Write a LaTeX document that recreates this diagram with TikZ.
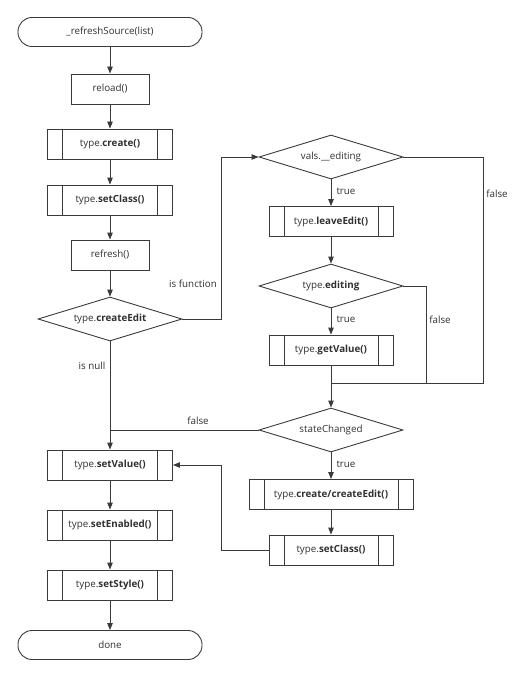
\documentclass[tikz,border=0pt]{standalone}
\usepackage{fontspec}
\setmainfont{Open Sans}
\usetikzlibrary{shapes.geometric,arrows.meta}

\definecolor{linegray}{HTML}{3A3A3A}
\definecolor{textgray}{HTML}{303030}

\tikzset{
    base/.style={draw=linegray, line width=0.9pt, text=textgray, font=\fontsize{9.8}{11}\selectfont, inner sep=0pt},
    terminal/.style={base, rectangle, rounded corners=14pt, minimum width=184pt, minimum height=29pt},
    process/.style={base, rectangle, minimum width=78pt, minimum height=30pt},
    subproc/.style={base, rectangle, minimum height=30pt,
        path picture={
            \draw[linegray, line width=0.9pt]
                ([xshift=15pt]path picture bounding box.north west) -- ([xshift=15pt]path picture bounding box.south west)
                ([xshift=-15pt]path picture bounding box.north east) -- ([xshift=-15pt]path picture bounding box.south east);
        }},
    decision/.style={base, diamond, aspect=3.2, minimum width=144pt, minimum height=44pt},
    flow/.style={draw=linegray, line width=0.9pt, -{Triangle[length=7pt,width=5.5pt]}},
    link/.style={draw=linegray, line width=0.9pt},
    lbl/.style={text=textgray, font=\fontsize{9.8}{11}\selectfont, inner sep=1pt}
}

\begin{document}
\begin{tikzpicture}[x=1pt, y=-1pt]
    \useasboundingbox (0,0) rectangle (530,679);

    % left column
    \node[terminal] (start) at (110,32) {\_refreshSource(list)};
    \node[process] (reload) at (110,89) {reload()};
    \node[subproc, minimum width=125pt] (create) at (110,144) {type.\textbf{create()}};
    \node[subproc, minimum width=125pt] (setcls) at (110,200) {type.\textbf{setClass()}};
    \node[process] (refresh) at (110,255) {refresh()};
    \node[decision] (cedit) at (110,319) {type.\textbf{createEdit}};
    \node[subproc, minimum width=125pt] (setval) at (110,465) {type.\textbf{setValue()}};
    \node[subproc, minimum width=125pt] (setenab) at (110,525) {type.\textbf{setEnabled()}};
    \node[subproc, minimum width=125pt] (setsty) at (110,585) {type.\textbf{setStyle()}};
    \node[terminal] (done) at (110,645) {done};

    % right column
    \node[decision] (vals) at (331,157) {vals.\_\_editing};
    \node[subproc, minimum width=124pt] (leave) at (331,221.5) {type.\textbf{leaveEdit()}};
    \node[decision] (editing) at (331,286) {type.\textbf{editing}};
    \node[subproc, minimum width=124pt] (getval) at (331,350) {type.\textbf{getValue()}};
    \coordinate (merge) at (331,383);
    \node[decision] (state) at (331,430) {stateChanged};
    \node[subproc, minimum width=164pt] (ccedit) at (331,494.5) {type.\textbf{create/createEdit()}};
    \node[subproc, minimum width=124pt] (setcls2) at (331,550) {type.\textbf{setClass()}};

    \draw[flow] (start) -- (reload);
    \draw[flow] (reload) -- (create);
    \draw[flow] (create) -- (setcls);
    \draw[flow] (setcls) -- (refresh);
    \draw[flow] (refresh) -- (cedit);
    \draw[flow] (cedit.east) -- (221,319) -- (221,157) -- (vals.west);
    \draw[flow] (cedit.south) -- (setval.north);
    \draw[flow] (vals.south) -- (leave.north);
    \draw[flow] (leave) -- (editing);
    \draw[flow] (editing.south) -- (getval.north);
    \draw[link] (getval.south) -- (merge);
    \draw[link] (vals.east) -- (483,157) -- (483,383) -- (merge);
    \draw[link] (editing.east) -- (426,286) -- (426,383);
    \draw[flow] (merge) -- (state.north);
    \draw[link] (state.west) -- (110,430);
    \draw[flow] (state.south) -- (ccedit.north);
    \draw[flow] (ccedit) -- (setcls2);
    \draw[flow] (setcls2.west) -- (221,550) -- (221,465) -- (setval.east);
    \draw[flow] (setval) -- (setenab);
    \draw[flow] (setenab) -- (setsty);
    \draw[flow] (setsty) -- (done);

    \node[lbl] (lfunc) at (193,284) {is function};
    \node[lbl] (lnull) at (92,366) {is null};
    \node[lbl] (ltrue1) at (346,191) {true};
    \node[lbl] (ltrue2) at (346,319) {true};
    \node[lbl] (ltrue3) at (346,464) {true};
    \node[lbl] (lfalse1) at (497,194) {false};
    \node[lbl] (lfalse2) at (440,320) {false};
    \node[lbl] (lfalse3) at (198,421) {false};
\end{tikzpicture}
\end{document}
